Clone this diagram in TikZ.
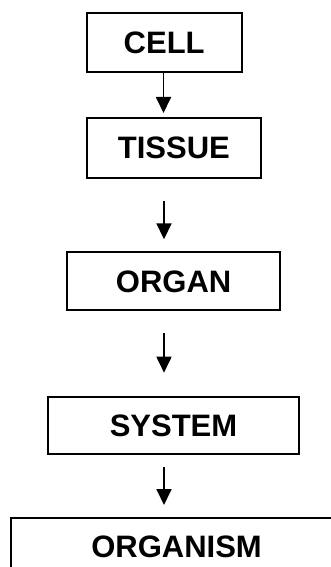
\documentclass[tikz,border=0pt]{standalone}
\usepackage{fontspec}
\setmainfont{Liberation Sans}
\usetikzlibrary{arrows.meta}
\begin{document}
\begin{tikzpicture}[x=1bp,y=-1bp,
  levelbox/.style={draw=black,line width=2bp,inner sep=0pt,
    font=\fontsize{31bp}{36bp}\selectfont\bfseries,text height=22bp,text depth=0pt},
  arr/.style={line width=1.8bp,-{Triangle[length=16bp,width=15bp]}}]
\useasboundingbox (0,0) rectangle (330,567);
\node[levelbox,minimum width=155bp,minimum height=58.4bp] (cell) at (164.2,42.5) {CELL};
\node[levelbox,minimum width=173.7bp,minimum height=60bp] (tissue) at (173.85,148) {TISSUE};
\node[levelbox,minimum width=212.7bp,minimum height=58bp] (organ) at (173.65,281) {ORGAN};
\node[levelbox,minimum width=251bp,minimum height=57bp] (system) at (173.5,425.5) {SYSTEM};
\node[levelbox,minimum width=331.6bp,minimum height=56.6bp] (organism) at (176.5,546) {ORGANISM};
\coordinate (a1e) at (163.5,113);
\coordinate (a2s) at (164,200.5);
\coordinate (a2e) at (164,239.3);
\coordinate (a3s) at (164,333.3);
\coordinate (a3e) at (164,372.7);
\coordinate (a4s) at (164,467);
\coordinate (a4e) at (164,505);
\draw[arr] (cell.south -| a1e) -- (a1e);
\draw[arr] (a2s) -- (a2e);
\draw[arr] (a3s) -- (a3e);
\draw[arr] (a4s) -- (a4e);
\end{tikzpicture}
\end{document}
